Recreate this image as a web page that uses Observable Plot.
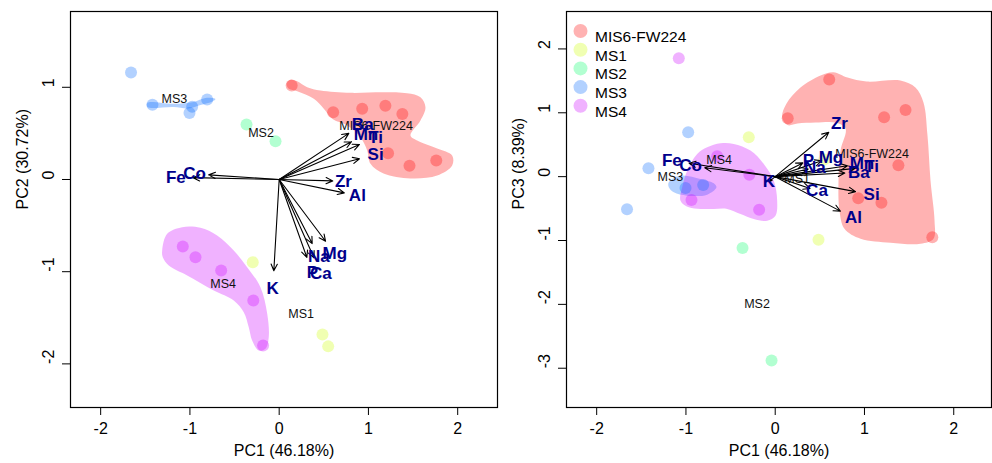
<!DOCTYPE html>
<html><head><meta charset="utf-8">
<script src="https://cdn.jsdelivr.net/npm/d3@7"></script>
<script src="https://cdn.jsdelivr.net/npm/@observablehq/plot@0.6"></script>
<style>
body{margin:0;background:#fff;}
#wrap{display:flex;width:992px;height:463px;overflow:hidden;}
svg{font-family:"Liberation Sans",Arial,sans-serif;}
</style></head><body><div id="wrap"></div>
<script>
// ---------- data ----------
const groups = ["MIS6-FW224","MS1","MS2","MS3","MS4"];
const groupColors = ["#FF0000","#CCFF00","#00FF66","#0066FF","#CC00FF"];

const sampleGroup = ["MIS6-FW224","MIS6-FW224","MIS6-FW224","MIS6-FW224","MIS6-FW224","MIS6-FW224","MIS6-FW224","MIS6-FW224",
  "MS1","MS1","MS1","MS2","MS2","MS3","MS3","MS3","MS3","MS3","MS4","MS4","MS4","MS4","MS4"];
const samplePC1 = [0.14,0.605,0.93,1.19,1.38,1.22,1.46,1.76, -0.296,0.485,0.549, -0.366,-0.041, -1.66,-1.42,-0.975,-1.005,-0.807, -1.08,-0.938,-0.65,-0.29,-0.18];
const samplePC2 = [1.02,0.73,0.767,0.80,0.71,0.285,0.15,0.206, -0.897,-1.68,-1.81, 0.597,0.415, 1.16,0.81,0.79,0.72,0.868, -0.727,-0.843,-0.987,-1.312,-1.80];
const samplePC3 = [0.914,1.52,-0.34,-0.41,0.18,0.93,1.045,-0.95, 0.616,-0.99,0.27, -1.118,-2.88, -0.51,0.13,0.695,-0.177,-0.13, 1.855,-0.366,0.32,0.03,-0.517];

const variables = ["Fe","Co","Ba","Mn","Ti","Si","Zr","Al","Mg","Na","P","Ca","K"];
const loadPC1 = [-0.965,-0.79,0.78,0.81,0.90,0.90,0.60,0.73,0.52,0.37,0.31,0.39,-0.06];
const loadPC2 = [0.02,0.05,0.50,0.41,0.38,0.225,-0.015,-0.145,-0.67,-0.695,-0.845,-0.85,-0.99];
const loadPC3 = [0.21,0.14,0.057,0.17,0.13,-0.235,0.695,-0.54,0.25,0.12,0.215,-0.185,-0.07];
const labelScale = 1.2;

const xTicks = [-2,-1,0,1,2];
const yTicksPC2 = [-2,-1,0,1];
const yTicksPC3 = [-3,-2,-1,0,1,2];

// hull outlines (data coordinates), PC1 vs PC2
const hullPC2_MIS6 = [[0.082,1.038],[0.127,1.081],[0.202,1.066],[0.314,1.001],[0.463,0.965],[0.799,0.940],[1.169,0.947],[1.434,0.936],[1.583,0.893],[1.639,0.784],[1.583,0.640],[1.471,0.477],[1.546,0.423],[1.770,0.336],[1.938,0.260],[1.938,0.152],[1.770,0.043],[1.471,0.011],[1.169,0.065],[1.023,0.170],[0.986,0.315],[0.911,0.459],[0.762,0.586],[0.594,0.658],[0.500,0.767],[0.388,0.875],[0.202,0.958],[0.108,0.984]];
const hullPC2_MS3 = [[-1.476,0.832],[-1.184,0.821],[-0.960,0.841],[-0.826,0.884],[-0.714,0.873],[-0.747,0.846],[-0.882,0.808],[-1.016,0.770],[-1.184,0.786],[-1.476,0.786]];
const hullPC2_MS4 = [[-1.311,-0.770],[-1.255,-0.589],[-1.087,-0.517],[-0.882,-0.524],[-0.695,-0.607],[-0.509,-0.770],[-0.359,-0.951],[-0.210,-1.168],[-0.134,-1.457],[-0.117,-1.710],[-0.154,-1.836],[-0.229,-1.855],[-0.303,-1.746],[-0.341,-1.602],[-0.397,-1.439],[-0.509,-1.312],[-0.733,-1.204],[-1.031,-1.041],[-1.237,-0.933],[-1.304,-0.843]];
// hull outlines, PC1 vs PC3
const hullPC3_MIS6 = [[0.078,0.929],[0.127,1.144],[0.283,1.395],[0.508,1.583],[0.653,1.635],[0.810,1.552],[1.023,1.489],[1.403,1.505],[1.571,1.395],[1.661,1.160],[1.706,0.643],[1.740,-0.063],[1.785,-0.690],[1.773,-0.972],[1.628,-1.050],[1.291,-1.034],[0.956,-0.972],[0.776,-0.815],[0.720,-0.533],[0.709,-0.063],[0.732,0.408],[0.788,0.752],[0.676,0.846],[0.452,0.846],[0.250,0.831],[0.138,0.807]];
const hullPC3_MS3 = [[-1.192,-0.089],[-1.061,0.016],[-0.837,-0.036],[-0.688,-0.105],[-0.658,-0.168],[-0.762,-0.282],[-0.986,-0.298],[-1.136,-0.246],[-1.192,-0.168]];
const hullPC3_MS4 = [[-1.061,-0.376],[-1.042,-0.168],[-0.986,0.094],[-0.874,0.356],[-0.762,0.459],[-0.613,0.522],[-0.464,0.513],[-0.277,0.408],[-0.128,0.199],[-0.016,-0.063],[0.022,-0.376],[0.003,-0.611],[-0.090,-0.690],[-0.240,-0.663],[-0.389,-0.585],[-0.538,-0.506],[-0.688,-0.506],[-0.837,-0.506],[-0.968,-0.481]];

// ---------- tables ----------
const samples = sampleGroup.map((g,i)=>({group:g, pc1:samplePC1[i], pc2:samplePC2[i], pc3:samplePC3[i]}));
const loadings = variables.map((v,i)=>({name:v, pc1:loadPC1[i], pc2:loadPC2[i], pc3:loadPC3[i]}));
const centroids = groups.map(g=>{
  const s = samples.filter(d=>d.group===g);
  return {group:g, pc1:d3.mean(s,d=>d.pc1), pc2:d3.mean(s,d=>d.pc2), pc3:d3.mean(s,d=>d.pc3)};
});
function hullRows(list){
  return list.flatMap(([g,pts])=>pts.map(([x,y])=>({group:g, x, y})));
}
const hullsPC2 = hullRows([["MIS6-FW224",hullPC2_MIS6],["MS3",hullPC2_MS3],["MS4",hullPC2_MS4]]);
const hullsPC3 = hullRows([["MIS6-FW224",hullPC3_MIS6],["MS3",hullPC3_MS3],["MS4",hullPC3_MS4]]);

const NAVY = "#00008B";
const FONT = "Liberation Sans, Arial, sans-serif";

function panel({width, marginLeft, marginRight, xDomain, yDomain, yKey, yTicks, yTitle, hulls, legend}){
  const marks = [
    Plot.line(hulls, {x:"x", y:"y", z:"group", fill:"group", fillOpacity:0.3, stroke:"none", curve:"catmull-rom-closed"}),
    Plot.dot(samples, {x:"pc1", y:yKey, r:6, fill:"group", fillOpacity:0.3, stroke:"none"}),
    Plot.text(centroids, {x:"pc1", y:yKey, text:"group", fontSize:12.5, fill:"#111"}),
    Plot.arrow(loadings, {x1:()=>0, y1:()=>0, x2:"pc1", y2:yKey, stroke:"black", strokeWidth:1.1, headLength:10, headAngle:50}),
    Plot.text(loadings, {x:d=>d.pc1*labelScale, y:d=>d[yKey]*labelScale, text:"name", fontSize:17, fontWeight:"bold", fill:NAVY}),
    Plot.frame({stroke:"black", strokeWidth:1.2}),
    Plot.axisX({ticks:xTicks, tickSize:8, tickPadding:7, fontSize:16, tickFormat:d=>String(d), label:null}),
    Plot.axisY({ticks:yTicks, tickSize:8, tickFormat:()=>"", label:null}),
    Plot.text(yTicks, {y:d=>d, text:d=>String(d), frameAnchor:"left", dx:-22, rotate:-90, fontSize:16, fill:"black"}),
    Plot.text(["PC1 (46.18%)"], {frameAnchor:"bottom", dy:48, fontSize:16, fill:"black"}),
    Plot.text([yTitle], {frameAnchor:"left", dx:-48, rotate:-90, fontSize:16, fill:"black"})
  ];
  if (legend){
    groups.forEach((g,i)=>{
      marks.push(Plot.dot([g], {frameAnchor:"top-left", dx:14, dy:19.5+i*18.7, r:7, fill:groupColors[i], fillOpacity:0.3, stroke:"none"}));
      marks.push(Plot.text([g], {frameAnchor:"top-left", dx:28.5, dy:19.5+i*18.7, textAnchor:"start", fontSize:15.5, fill:"black"}));
    });
  }
  return Plot.plot({
    width, height:463, marginLeft, marginRight, marginTop:11, marginBottom:56,
    style:{fontFamily:FONT, background:"white", color:"black"},
    x:{domain:xDomain, axis:null},
    y:{domain:yDomain, axis:null},
    color:{domain:groups, range:groupColors},
    marks
  });
}

const left = panel({width:500, marginLeft:70, marginRight:3, xDomain:[-2.338,2.446], yDomain:[-2.473,1.822],
  yKey:"pc2", yTicks:yTicksPC2, yTitle:"PC2 (30.72%)", hulls:hullsPC2, legend:false});
const right = panel({width:492, marginLeft:66, marginRight:1, xDomain:[-2.338,2.423], yDomain:[-3.615,2.586],
  yKey:"pc3", yTicks:yTicksPC3, yTitle:"PC3 (8.39%)", hulls:hullsPC3, legend:true});
document.getElementById("wrap").append(left, right);
</script></body></html>
